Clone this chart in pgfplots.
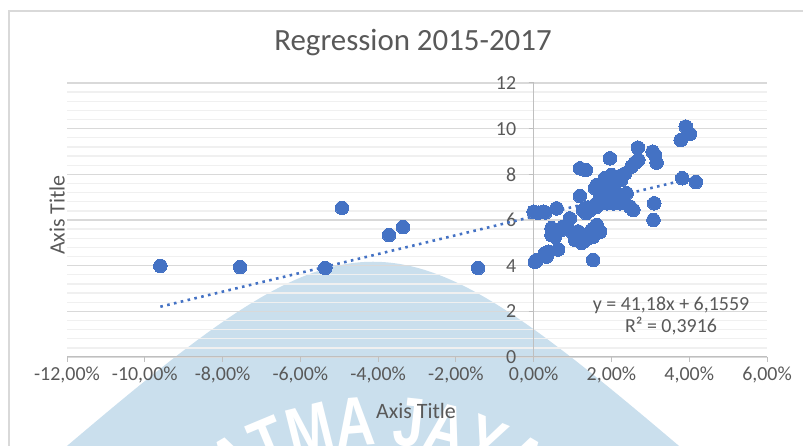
\documentclass[border=0pt]{standalone}
\usepackage{fontspec}
\setmainfont{Carlito}
\newfontfamily\wmfont[FakeStretch=0.78]{Liberation Sans}
\usepackage{pgfplots}
\usepackage{pgfplotstable}
\pgfplotsset{compat=1.18}
\usetikzlibrary{decorations.text}
\definecolor{ptblue}{RGB}{68,114,196}
\definecolor{txtgray}{RGB}{89,89,89}
\definecolor{majgrid}{RGB}{217,217,217}
\definecolor{mingrid}{RGB}{240,240,240}
\definecolor{axgray}{RGB}{191,191,191}
\definecolor{wmblue}{RGB}{202,223,237}

\pgfplotstableread{
x y
-9.60 3.99
-7.55 3.94
-5.36 3.90
-4.93 6.53
-3.72 5.34
-3.36 5.69
-1.43 3.90
0.00 6.36
0.12 6.32
0.24 6.36
0.30 6.33
0.59 6.51
0.03 4.17
0.08 4.25
0.29 4.54
0.38 4.61
0.33 4.40
0.63 4.71
0.46 5.64
0.46 5.34
0.50 5.56
0.55 5.27
0.76 5.71
0.93 6.07
1.01 5.42
1.07 5.12
1.14 5.50
1.19 5.20
1.23 5.00
1.27 5.05
1.35 5.15
1.49 5.56
1.53 5.27
1.62 5.78
1.71 5.49
1.53 4.25
1.19 7.05
1.19 8.26
1.34 8.19
1.27 6.43
1.45 6.43
1.35 6.30
1.62 6.58
1.88 6.73
2.22 6.73
2.39 7.17
1.71 7.17
1.78 7.00
2.05 6.73
2.48 6.58
2.56 6.44
2.35 6.73
1.58 7.39
1.62 7.53
1.83 7.83
2.00 7.97
2.17 7.90
2.35 8.04
2.52 8.34
2.60 8.50
2.69 8.63
1.92 7.32
2.18 7.10
1.96 8.70
2.68 9.17
3.06 8.99
3.12 8.85
3.16 8.51
3.10 6.73
3.08 6.00
3.78 9.50
3.91 10.09
4.02 9.77
3.82 7.83
4.17 7.66
1.70 6.85
1.95 6.90
2.10 7.25
1.85 7.55
2.05 7.65
2.25 7.75
1.60 6.70
1.40 6.55
0.70 5.55
0.85 5.75
}\scatterdata

\pgfplotstableread{
x y
-9.60 2.2026
4.19 7.8812
}\trenddata

\begin{document}
\begin{tikzpicture}[x=1bp,y=1bp]
\path[use as bounding box] (0,0) rectangle (803,446);
% watermark (background)
\begin{scope}
\clip (0,0) rectangle (803,446);
\fill[wmblue] (20,-40) .. controls (370,259) and (376,259) .. (726,-40) -- cycle;
\path[decorate, decoration={text along path, text color=white, text align=center,
  text={|\wmfont\bfseries\fontsize{70}{70}\selectfont|S ATMA JAYA Y}}]
  (378,-259) ++(150:260) arc[start angle=150, end angle=30, radius=260];
\end{scope}
% chart frame
\draw[majgrid, line width=1.5bp] (9,0) -- (9,435) -- (803,435);

\begin{axis}[
  at={(67bp,89bp)}, anchor=south west,
  scale only axis, width=700bp, height=274bp,
  xmin=-12, xmax=6, ymin=0, ymax=12,
  axis x line=bottom, axis y line=middle,
  axis line style={-, draw=axgray, line width=1bp},
  hide obscured x ticks=false, hide obscured y ticks=false,
  xtick={-12,-10,...,6},
  xticklabels={{-12,00\%},{-10,00\%},{-8,00\%},{-6,00\%},{-4,00\%},{-2,00\%},{0,00\%},{2,00\%},{4,00\%},{6,00\%}},
  ytick={0,2,...,12},
  yticklabels={0,2,4,6,8,10,12},
  minor y tick num=4,
  tick align=outside,
  major tick length=5bp, minor tick length=0bp,
  tick style={draw=axgray, line width=1bp},
  ymajorgrids, yminorgrids,
  major grid style={draw=majgrid, line width=1.3bp},
  minor grid style={draw=mingrid, line width=1.3bp},
  ticklabel style={font=\fontsize{20}{24}\selectfont, text=txtgray},
  xticklabel style={yshift=-1bp},
  yticklabel style={xshift=-9bp},
  clip=false,
]
\addplot[only marks, mark=*, mark size=6.8bp, mark options={fill=ptblue, draw=ptblue, line width=0pt}] table[x=x,y=y] {\scatterdata};
\addplot[ptblue, line width=2.6bp, dash pattern=on 2.6bp off 4.4bp] table[x=x,y=y] {\trenddata};
\end{axis}

\node[font=\fontsize{31}{36}\selectfont, text=txtgray] at (413,403) {Regression 2015-2017};
\node[font=\fontsize{22}{26}\selectfont, text=txtgray] at (416,35) {Axis Title};
\node[font=\fontsize{22}{26}\selectfont, text=txtgray, rotate=90] at (57,231) {Axis Title};
\node[align=center, font=\fontsize{20}{23}\selectfont, text=txtgray] at (671,130) {y = 41,18x + 6,1559\\R² = 0,3916};
\end{tikzpicture}
\end{document}
